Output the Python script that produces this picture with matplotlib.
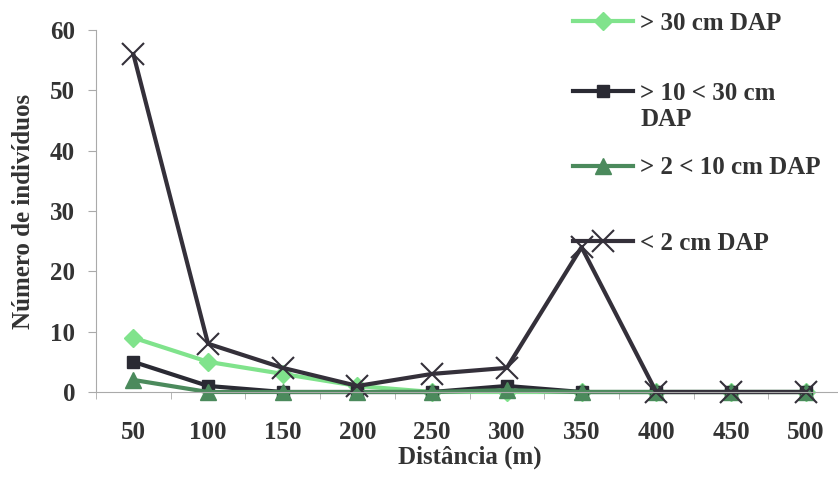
import numpy as np
import matplotlib.pyplot as plt
from matplotlib.legend import Legend

plt.rcParams['font.family'] = ['Liberation Serif', 'DejaVu Serif']

distancias = ['50', '100', '150', '200', '250', '300', '350', '400', '450', '500']
maior_30 = [9, 5, 3, 1, 0, 0, 0, 0, 0, 0]
entre_10_30 = [5, 1, 0, 0, 0, 1, 0, 0, 0, 0]
entre_2_10 = [2, 0, 0, 0, 0, 0.3, 0, 0, 0, 0]
menor_2 = [56, 8, 4, 1, 3, 4, 24, 0, 0, 0]

x = np.arange(len(distancias))
fs = 18
cor_texto = '#333333'

fig = plt.figure(figsize=(8.38, 4.82), dpi=100)
ax = fig.add_axes([96 / 838, 1 - 392 / 482, 747 / 838, 362 / 482])

l1, = ax.plot(x, maior_30, color='#80e38c', lw=3, marker='D', ms=9)
l2, = ax.plot(x, entre_10_30, color='#2a2a33', lw=3, marker='s', ms=8)
l3, = ax.plot(x, entre_2_10, color='#4b8a5c', lw=3, marker='^', ms=12)
l4, = ax.plot(x, menor_2, color='#34303a', lw=3, marker='x', ms=16, mew=1.5)

ax.set_xlim(-0.5, len(distancias) - 0.5)
ax.set_ylim(0, 60)
ax.set_yticks(range(0, 61, 10))
ax.set_xticks(x)
ax.set_xticklabels(distancias)
ax.set_xticks(np.arange(-0.5, len(distancias), 1), minor=True)
ax.tick_params(axis='x', which='major', length=0, pad=21, labelsize=fs)
ax.tick_params(axis='x', which='minor', length=5, color='#aaaaaa', direction='out')
ax.tick_params(axis='y', length=6, color='#aaaaaa', labelsize=fs, pad=9)
for lab in ax.get_xticklabels() + ax.get_yticklabels():
    lab.set_fontweight('bold')
    lab.set_color(cor_texto)

for s in ['top', 'right']:
    ax.spines[s].set_visible(False)
for s in ['left', 'bottom']:
    ax.spines[s].set_color('#aaaaaa')
for l in ax.lines:
    l.set_clip_on(False)

ax.set_xlabel('Distância (m)', fontsize=fs, fontweight='bold', color=cor_texto, labelpad=1)
ax.set_ylabel('Número de indivíduos', fontsize=fs, fontweight='bold', color=cor_texto, labelpad=11)

# legenda: uma entrada de cada vez, espaçamento irregular como no original
entradas = [(l1, '> 30 cm DAP', 23), (l2, '> 10 < 30 cm', 93),
            (l3, '> 2 < 10 cm DAP', 168), (l4, '< 2 cm DAP', 243)]
for linha, texto, y in entradas:
    leg = Legend(ax, [linha], [texto], loc='center left',
                 bbox_to_anchor=(573 / 838, 1 - y / 482), bbox_transform=fig.transFigure,
                 frameon=False, borderpad=0, borderaxespad=0, handlelength=2.4,
                 handletextpad=0.28, prop={'weight': 'bold', 'size': fs})
    leg.get_texts()[0].set_color(cor_texto)
    ax.add_artist(leg)
fig.text(640 / 838, 1 - 120 / 482, 'DAP', fontsize=fs, fontweight='bold',
         color=cor_texto, va='center', ha='left')

plt.savefig('out.png', dpi=100)
